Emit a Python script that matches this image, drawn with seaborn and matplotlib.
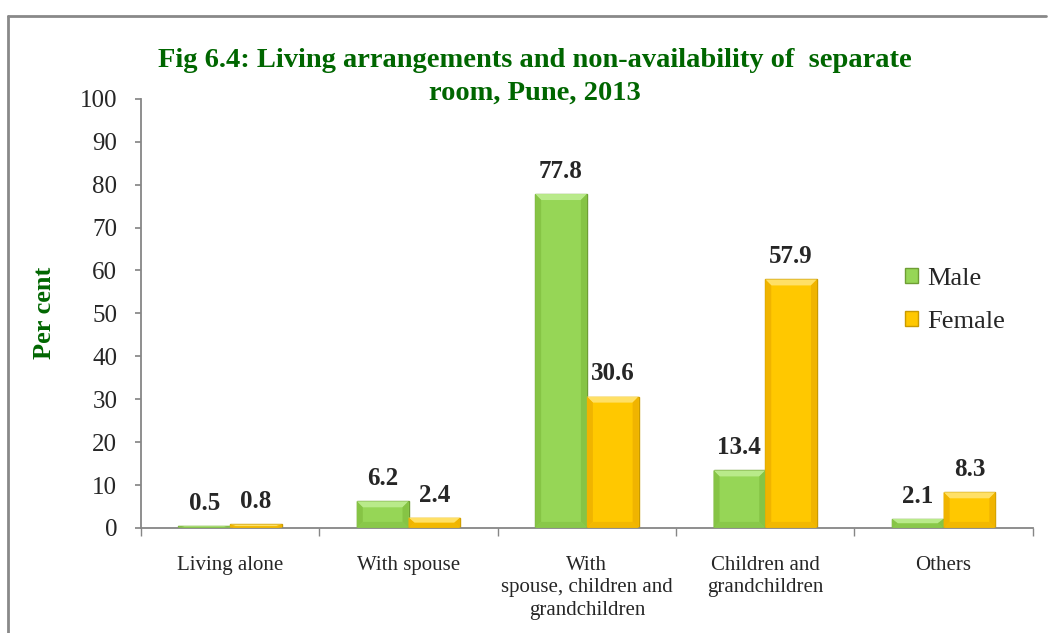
import pandas as pd
import matplotlib.pyplot as plt
import seaborn as sns
from matplotlib.lines import Line2D
from matplotlib.patches import Polygon

sns.set_theme(style="white")
plt.rcParams["font.family"] = ["Liberation Serif", "DejaVu Serif"]

# -------- DATA --------
categories = ["Living alone", "With spouse",
              "With\nspouse, children and\ngrandchildren",
              "Children and\ngrandchildren", "Others"]
male = [0.5, 6.2, 77.8, 13.4, 2.1]
female = [0.8, 2.4, 30.6, 57.9, 8.3]
series = ["Male", "Female"]
y_ticks = [0, 10, 20, 30, 40, 50, 60, 70, 80, 90, 100]

df = pd.DataFrame({
    "cat": categories * 2,
    "val": male + female,
    "sex": ["Male"] * len(categories) + ["Female"] * len(categories),
})

colors = {"Male": "#96D656", "Female": "#FFC800"}
edges = {"Male": "#6E9E34", "Female": "#C99A00"}
bevel_top = {"Male": "#B9EA8A", "Female": "#FFE066"}
bevel_side = {"Male": "#86C445", "Female": "#F0B400"}
bevel_bot = {"Male": "#89C84A", "Female": "#F2B800"}

fig = plt.figure(figsize=(10.48, 6.33), dpi=100)
ax = fig.add_axes([0.1345, 0.166, 0.851, 0.678])

sns.barplot(data=df, x="cat", y="val", hue="sex", hue_order=series,
            palette=colors, saturation=1, width=0.58, ax=ax, legend=True)

ax.set_xlim(-0.5, 4.5)
ax.set_ylim(0, 100)

# bevel look like the office chart style
px_x = 1.0 / (0.851 * 1048 / 5)   # data units per pixel along x
px_y = 100.0 / (0.678 * 633)      # data units per pixel along y
for cont, s in zip(ax.containers, series):
    for bar in cont:
        bar.set_edgecolor(edges[s])
        bar.set_linewidth(1.0)
        x0, w, h = bar.get_x(), bar.get_width(), bar.get_height()
        x1 = x0 + w
        b = min(6 * px_y, h / 2)
        bx = min(6 * px_x, w / 2)
        ax.add_patch(Polygon([(x0, h), (x1, h), (x1 - bx, h - b), (x0 + bx, h - b)],
                             closed=True, facecolor=bevel_top[s], lw=0, zorder=3))
        ax.add_patch(Polygon([(x0, 0), (x1, 0), (x1 - bx, b), (x0 + bx, b)],
                             closed=True, facecolor=bevel_bot[s], lw=0, zorder=3))
        ax.add_patch(Polygon([(x1, 0), (x1, h), (x1 - bx, h - b), (x1 - bx, b)],
                             closed=True, facecolor=bevel_side[s], lw=0, zorder=3))
        ax.add_patch(Polygon([(x0, 0), (x0, h), (x0 + bx, h - b), (x0 + bx, b)],
                             closed=True, facecolor=bevel_side[s], lw=0, zorder=3))
    ax.bar_label(cont, fmt="%.1f", padding=8, fontsize=18, fontweight="bold")

# axes styling
ax.set_yticks(y_ticks)
ax.tick_params(axis="y", labelsize=18, length=4, pad=13, color="#868686",
               direction="out", left=True)
ax.set_xticks(range(len(categories)))
ax.set_xticklabels(categories, fontsize=15, linespacing=1.26)
ax.set_xticks([i - 0.5 for i in range(len(categories) + 1)], minor=True)
ax.tick_params(axis="x", which="major", length=0, pad=20)
ax.tick_params(axis="x", which="minor", length=6, color="#868686", direction="out", bottom=True)
for side in ["top", "right"]:
    ax.spines[side].set_visible(False)
for side in ["left", "bottom"]:
    ax.spines[side].set_color("#868686")
    ax.spines[side].set_linewidth(1.3)

ax.set_xlabel("")
ax.set_ylabel("Per cent", fontsize=19, fontweight="bold", color="#006600", labelpad=17)

# legend
leg = ax.legend(loc="upper left", bbox_to_anchor=(0.83, 0.662), frameon=False,
                fontsize=19, handlelength=0.5, handleheight=0.5, handletextpad=0.35,
                labelspacing=0.8)
for h, s in zip(leg.legend_handles, series):
    h.set_edgecolor(edges[s])

# title
fig.text(0.51, 0.879, "Fig 6.4: Living arrangements and non-availability of  separate\nroom, Pune, 2013",
         ha="center", va="center", fontsize=20.5, fontweight="bold", color="#006600",
         linespacing=1.4)

# outer border (chart area frame)
fig.add_artist(Line2D([8 / 1048, 8 / 1048], [0, 1 - 16 / 633], transform=fig.transFigure,
                      color="#898989", lw=2))
fig.add_artist(Line2D([8 / 1048, 1046 / 1048], [1 - 16 / 633, 1 - 16 / 633],
                      transform=fig.transFigure, color="#898989", lw=2))

fig.savefig("out.png", dpi=100)
